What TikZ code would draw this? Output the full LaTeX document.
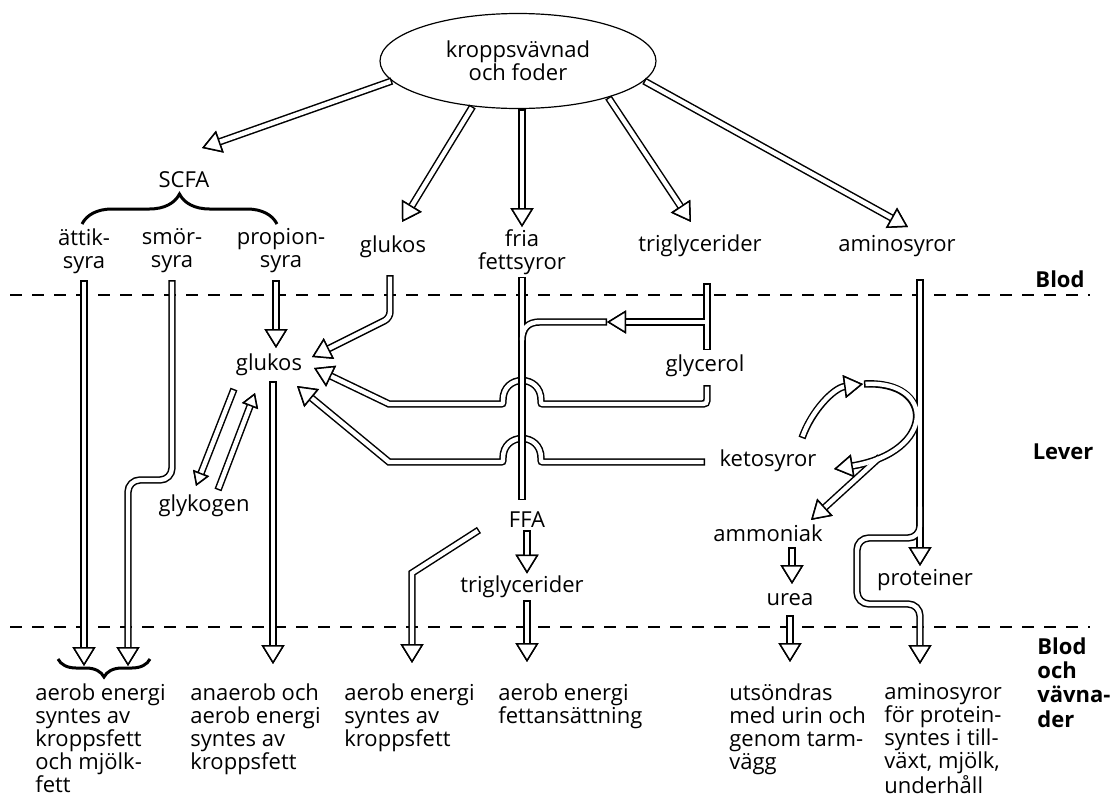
\documentclass[tikz,border=0pt]{standalone}
\usepackage{fontspec}
\setmainfont{Open Sans}
\usetikzlibrary{arrows.meta,shapes.geometric,decorations.pathreplacing,calc}

\pgfdeclarelayer{pipeout}
\pgfdeclarelayer{pipein}
\pgfdeclarelayer{overout}
\pgfdeclarelayer{overin}
\pgfsetlayers{main,pipeout,pipein,overout,overin}

\tikzset{hollow/.tip={Triangle[length=9.5pt,width=11.5pt,line width=0.75pt,color=black,fill=white]}}
\tikzset{hollowsmall/.tip={Triangle[length=7pt,width=8.5pt,line width=0.75pt,color=black,fill=white]}}
\tikzstyle{lbl}=[font=\fontsize{11}{11.5}\selectfont, align=center, inner sep=1pt]
\tikzstyle{zone}=[font=\fontsize{11}{12.2}\selectfont\bfseries, align=left, inner sep=1pt]
\tikzstyle{result}=[lbl, align=left, anchor=north west, inner sep=0pt]
\tikzstyle{border}=[dash pattern=on 6pt off 5pt, line width=0.6pt]
\tikzstyle{clasp}=[decorate, line width=1.5pt]
\tikzstyle{pipeouter}=[draw=black, line width=3.7pt]
\tikzstyle{pipeinner}=[draw=white, line width=2.2pt, shorten <=0.75pt, shorten >=0.75pt]
\tikzstyle{arrowed}=[-hollow, shorten >=0pt]
\tikzstyle{arrowedsmall}=[-hollowsmall, shorten >=0pt]

% hollow double-walled flow line
\newcommand\flowpipe[2][]{%
  \begin{pgfonlayer}{pipeout}\draw[pipeouter,#1] #2;\end{pgfonlayer}
  \begin{pgfonlayer}{pipein}\draw[pipeinner,#1] #2;\end{pgfonlayer}}
% same, but passing over the others
\newcommand\flowpipeover[2][]{%
  \begin{pgfonlayer}{overout}\draw[pipeouter,#1] #2;\end{pgfonlayer}
  \begin{pgfonlayer}{overin}\draw[pipeinner,#1] #2;\end{pgfonlayer}}

\begin{document}
\begin{tikzpicture}[x=0.5pt, y=-0.5pt]
    \useasboundingbox (0,0) rectangle (1116,798);

    % source
    \node[lbl, ellipse, draw, line width=0.6pt, minimum width=138pt, minimum height=47.5pt] (src) at (518,61) {kroppsvävnad\\och foder};

    % blood
    \node[lbl] (scfa) at (184,180) {SCFA};
    \node[lbl] (attik) at (84,251) {ättik-\\syra};
    \node[lbl] (smor) at (172,251) {smör-\\syra};
    \node[lbl] (propion) at (281,251) {propion-\\syra};
    \node[lbl] (gluB) at (393,247) {glukos};
    \node[lbl] (fria) at (522,252) {fria\\fettsyror};
    \node[lbl] (trigB) at (700,246) {triglycerider};
    \node[lbl] (aminoB) at (897,246) {aminosyror};

    \node[zone] (blod) at (1060,279) {Blod};
    \node[zone] (lever) at (1063,452) {Lever};
    \node[zone, anchor=north west] (vavnad) at (1035,635) {Blod\\och\\vävna-\\der};

    % liver
    \node[lbl] (gluL) at (269,365) {glukos};
    \node[lbl] (glykogen) at (204,506) {glykogen};
    \node[lbl] (glycerol) at (705,366) {glycerol};
    \node[lbl] (keto) at (768,461) {ketosyror};
    \node[lbl] (ffa) at (527,520) {FFA};
    \node[lbl] (trigL) at (522,587) {triglycerider};
    \node[lbl] (ammoniak) at (768,533) {ammoniak};
    \node[lbl] (urea) at (790,600) {urea};
    \node[lbl] (prot) at (925,580) {proteiner};

    % tissues
    \node[result] (res1) at (35,683) {aerob energi\\syntes av\\kroppsfett\\och mjölk-\\fett};
    \node[result] (res2) at (190,683) {anaerob och\\aerob energi\\syntes av\\kroppsfett};
    \node[result] (res3) at (344,683) {aerob energi\\syntes av\\kroppsfett};
    \node[result] (res4) at (498,683) {aerob energi\\fettansättning};
    \node[result] (res5) at (729,683) {utsöndras\\med urin och\\genom tarm-\\vägg};
    \node[result] (res6) at (884,683) {aminosyror\\för protein-\\syntes i till-\\växt, mjölk,\\underhåll};

    \draw[border] (10,295) -- (1090,295);
    \draw[border] (10,627) -- (1090,627);

    \draw[clasp, decoration={brace, amplitude=15pt}] (82,224) -- (277,224);
    \draw[clasp, decoration={brace, amplitude=9pt}] (150,659) -- (58,659);

    % from the source
    \flowpipe[arrowed]{(src.189) -- (202,148)}
    \flowpipe[arrowed]{(src.225) -- (402,222)}
    \flowpipe[arrowed]{(fria |- src.south) -- (fria.north)}
    \flowpipe[arrowed]{(src.-22) -- (691,222)}
    \flowpipe[arrowed]{(src.-9) -- (908,227)}

    % SCFA and glucose
    \flowpipe[arrowed]{(84,280) -- (84,666)}
    \flowpipe[arrowed, rounded corners=6pt]{(172,280) |- (128,480) -- (128,666)}
    \flowpipe[arrowed]{(276,280) -- (276,348)}
    \flowpipe[arrowed]{(273,381) -- (273,664)}
    \flowpipe[arrowed, rounded corners=3pt]{(390,275) -- (390,318) -- (312,357)}
    \flowpipe[arrowedsmall]{(234,389) -- (196,486)}
    \flowpipe[arrowedsmall]{(218,490) -- (255,393)}

    % fat
    \flowpipeover{(fria.south) -- (522,500)}
    \flowpipe{(707,283) -- (707,350)}
    \flowpipe[arrowed]{(707,322) -- (607,322)}
    \flowpipeover{(607,322) -- (540,322) .. controls (528,322) and (522,328) .. (522,342)}
    \flowpipe[arrowed]{(707,385) -- (707,396) .. controls (707,404) .. (699,404) -- (545,404) .. controls (541,404) .. (541,400) .. controls (541,374) and (503,374) .. (503,400) .. controls (503,404) .. (499,404) -- (389,404) -- (314,368)}
    \flowpipe[arrowed]{(705,462) -- (545,462) .. controls (541,462) .. (541,458) .. controls (541,432) and (503,432) .. (503,458) .. controls (503,462) .. (499,462) -- (389,462) -- (297,386)}
    \flowpipe[arrowed]{(ffa.south) -- (ffa |- trigL.north)}
    \flowpipe[arrowed]{(ffa |- trigL.south) -- (527,662)}
    \flowpipe[arrowed]{(479,530) -- (412,573) -- (412,663)}

    % amino acids
    \flowpipe[arrowed]{(920,279) -- (920,566)}
    \flowpipe[arrowed, rounded corners=6pt]{(920,505) -- (920,538) -- (857,538) -- (857,604) -- (920,604) -- (920,664)}
    \flowpipe[arrowed]{(802,438) .. controls (812,410) and (834,388) .. (863,384)}
    \flowpipe[arrowed]{(864,384) .. controls (936,380) and (936,452) .. (834,469)}
    \flowpipe[arrowed]{(880,457) -- (811,520)}
    \flowpipe[arrowed]{(792,547) -- (792,584)}
    \flowpipe[arrowed]{(790,615) -- (790,662)}
\end{tikzpicture}
\end{document}
